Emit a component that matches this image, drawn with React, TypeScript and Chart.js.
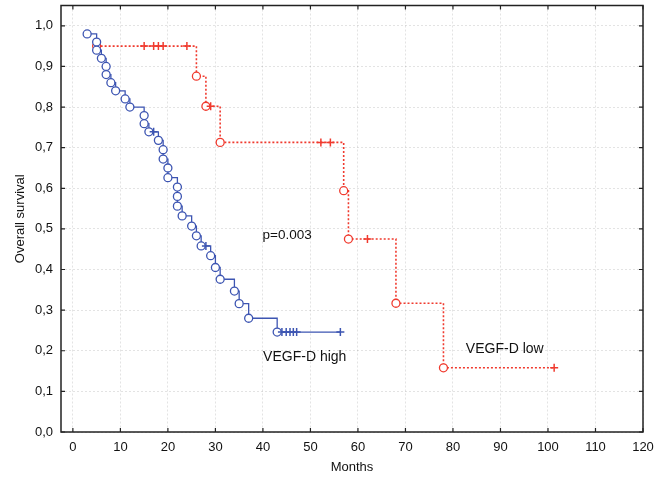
import React, { useEffect, useRef } from "react";
import { Chart, registerables } from "chart.js";

Chart.register(...registerables);

// VEGF-D high (blue) : months, survival, mark type (o = event, + = censored)
const highMonths = [3, 5, 5, 6, 7, 7, 8, 9, 11, 12, 15, 15, 16, 17, 18, 19, 19, 20, 20, 22, 22, 22, 23, 25, 26, 27, 28, 29, 30, 31, 34, 35, 37, 43, 44, 44.9, 45.7, 46.4, 47.1, 56.3];
const highSurvival = [0.98, 0.96, 0.94, 0.92, 0.9, 0.88, 0.86, 0.84, 0.82, 0.8, 0.779, 0.759, 0.739, 0.739, 0.718, 0.695, 0.672, 0.65, 0.626, 0.603, 0.58, 0.556, 0.532, 0.507, 0.483, 0.458, 0.458, 0.434, 0.405, 0.376, 0.347, 0.316, 0.28, 0.246, 0.246, 0.246, 0.246, 0.246, 0.246, 0.246];
const highMarks = ["o", "o", "o", "o", "o", "o", "o", "o", "o", "o", "o", "o", "o", "+", "o", "o", "o", "o", "o", "o", "o", "o", "o", "o", "o", "o", "+", "o", "o", "o", "o", "o", "o", "o", "+", "+", "+", "+", "+", "+"];

// VEGF-D low (red)
const lowMonths = [5, 15, 17, 18, 19, 24, 26, 28, 29, 31, 52.2, 54.2, 57, 58, 62, 68, 78, 101.3];
const lowSurvival = [0.95, 0.95, 0.95, 0.95, 0.95, 0.95, 0.876, 0.802, 0.802, 0.713, 0.713, 0.713, 0.594, 0.475, 0.475, 0.317, 0.158, 0.158];
const lowMarks = ["o", "+", "+", "+", "+", "+", "o", "o", "+", "o", "+", "+", "o", "o", "+", "o", "o", "+"];

const xTickValues = [0, 10, 20, 30, 40, 50, 60, 70, 80, 90, 100, 110, 120];
const yTickValues = [0, 0.1, 0.2, 0.3, 0.4, 0.5, 0.6, 0.7, 0.8, 0.9, 1.0];

const xTitle = "Months";
const yTitle = "Overall survival";
const pText = "p=0.003";
const highLabel = "VEGF-D high";
const lowLabel = "VEGF-D low";

const FONT = "'Liberation Sans', Arial, sans-serif";
const BLUE = "#3d55b2";
const RED = "#f03a2e";

function buildDataset(months: number[], surv: number[], marks: string[], color: string, dashed: boolean, label: string) {
  return {
    label,
    data: months.map((m, i) => ({ x: m, y: surv[i] })),
    stepped: true as const,
    borderColor: color,
    borderWidth: dashed ? 1.6 : 1.3,
    borderDash: dashed ? [2, 2] : [],
    fill: false,
    pointStyle: marks.map((k) => (k === "o" ? "circle" : "cross")),
    pointRadius: marks.map((k) => (k === "o" ? 4 : 4)),
    pointBorderWidth: marks.map((k) => (k === "o" ? 1.3 : 1.5)),
    pointBorderColor: color,
    pointBackgroundColor: "#ffffff",
  };
}

const framePlugin = {
  id: "frameAndText",
  afterDraw(chart: any) {
    const { ctx, chartArea, scales } = chart;
    const { left, right, top, bottom } = chartArea;
    ctx.save();
    ctx.strokeStyle = "#222";
    ctx.lineWidth = 1.5;
    ctx.setLineDash([]);
    ctx.strokeRect(left, top, right - left, bottom - top);
    ctx.lineWidth = 1.2;
    const tl = 4;
    ctx.beginPath();
    xTickValues.forEach((v) => {
      const px = scales.x.getPixelForValue(v);
      ctx.moveTo(px, bottom);
      ctx.lineTo(px, bottom - tl);
      ctx.moveTo(px, top);
      ctx.lineTo(px, top + tl);
    });
    yTickValues.forEach((v) => {
      const py = scales.y.getPixelForValue(v);
      ctx.moveTo(left, py);
      ctx.lineTo(left + tl, py);
      ctx.moveTo(right, py);
      ctx.lineTo(right - tl, py);
    });
    ctx.stroke();

    ctx.fillStyle = "#111";
    ctx.textAlign = "center";
    ctx.textBaseline = "middle";
    ctx.font = `13.5px ${FONT}`;
    ctx.fillText(pText, scales.x.getPixelForValue(45.1), scales.y.getPixelForValue(0.485));
    ctx.font = `14px ${FONT}`;
    ctx.fillText(highLabel, scales.x.getPixelForValue(48.8), scales.y.getPixelForValue(0.184));
    ctx.fillText(lowLabel, scales.x.getPixelForValue(90.9), scales.y.getPixelForValue(0.203));
    ctx.restore();
  },
};

export default function App() {
  const canvasRef = useRef<HTMLCanvasElement | null>(null);

  useEffect(() => {
    if (!canvasRef.current) return;
    const tickFont = { family: FONT, size: 13 };
    const chart = new Chart(canvasRef.current, {
      type: "line",
      data: {
        datasets: [
          buildDataset(highMonths, highSurvival, highMarks, BLUE, false, highLabel) as any,
          buildDataset(lowMonths, lowSurvival, lowMarks, RED, true, lowLabel) as any,
        ],
      },
      options: {
        responsive: false,
        animation: false,
        devicePixelRatio: 1,
        layout: { padding: { left: 0, right: 25, top: 5, bottom: 0 } },
        plugins: {
          legend: { display: false },
          tooltip: { enabled: false },
        },
        scales: {
          x: {
            type: "linear",
            min: -2.5,
            max: 120,
            afterBuildTicks: (s: any) => {
              s.ticks = xTickValues.map((v) => ({ value: v }));
            },
            afterFit: (s: any) => {
              s.height = 47;
              s.paddingLeft = 0;
              s.paddingRight = 0;
            },
            grid: { color: "rgba(0,0,0,0.11)", drawTicks: false, lineWidth: 1 },
            border: { display: false, dash: [2, 2] },
            ticks: {
              padding: 8,
              font: tickFont,
              color: "#111",
              maxRotation: 0,
              autoSkip: false,
              callback: (v: any) => String(v),
            },
            title: {
              display: true,
              text: xTitle,
              font: { family: FONT, size: 13 },
              color: "#111",
              padding: { top: 0, bottom: 4 },
            },
          },
          y: {
            type: "linear",
            min: 0,
            max: 1.05,
            afterBuildTicks: (s: any) => {
              s.ticks = yTickValues.map((v) => ({ value: v }));
            },
            afterFit: (s: any) => {
              s.width = 61;
              s.paddingTop = 0;
              s.paddingBottom = 0;
            },
            grid: { color: "rgba(0,0,0,0.11)", drawTicks: false, lineWidth: 1 },
            border: { display: false, dash: [2, 2] },
            ticks: {
              padding: 8,
              font: tickFont,
              color: "#111",
              autoSkip: false,
              callback: (v: any) => Number(v).toFixed(1).replace(".", ","),
            },
            title: {
              display: true,
              text: yTitle,
              font: { family: FONT, size: 13 },
              color: "#111",
              padding: { top: 12.5, bottom: 0 },
            },
          },
        },
      },
      plugins: [framePlugin],
    });
    return () => chart.destroy();
  }, []);

  return (
    <div style={{ position: "fixed", left: 0, top: 0, width: 668, height: 479, background: "#fff" }}>
      <canvas ref={canvasRef} width={668} height={479} style={{ width: 668, height: 479, display: "block" }} />
    </div>
  );
}
